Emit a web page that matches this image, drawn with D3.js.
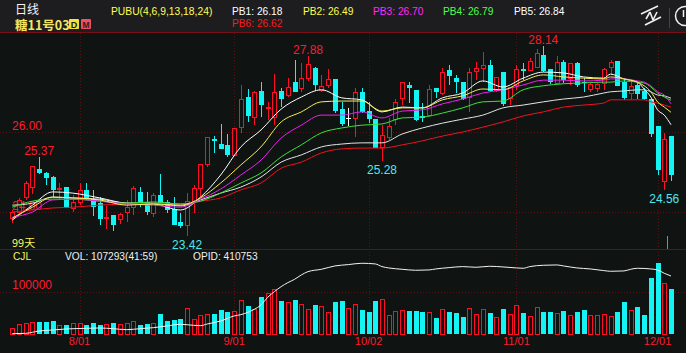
<!DOCTYPE html>
<html>
<head>
<meta charset="utf-8">
<script src="https://cdnjs.cloudflare.com/ajax/libs/d3/7.8.5/d3.min.js"></script>
<style>
  html, body { margin: 0; padding: 0; background: #0f1312; overflow: hidden; }
  text { font-family: "Liberation Sans", Arial, sans-serif; }
  .cjk { font-family: "Noto Sans CJK SC", sans-serif; }
</style>
</head>
<body>
<svg class="chart"></svg>
<script>
// daily candles, sugar no.11 03, 99 days
let opens = [23.86,24.01,24.38,24.63,25.08,24.98,24.88,24.58,24.63,24.11,24.26,24.56,24.33,24.23,23.86,23.93,23.83,24.01,24.13,24.51,24.26,23.98,24.43,24.26,24.08,23.76,23.68,24.28,24.61,25.20,25.83,25.70,25.68,25.43,26.12,26.87,26.37,27.02,26.60,26.37,27.02,26.92,27.24,27.10,27.34,27.59,27.05,27.17,27.32,26.57,26.35,26.35,27.00,26.52,26.32,25.63,25.88,26.32,26.85,27.17,27.05,26.40,26.42,27.10,26.97,27.54,27.34,27.24,26.87,27.52,27.59,27.67,27.05,27.49,26.85,27.17,27.57,27.54,27.62,27.92,27.57,27.22,27.74,27.34,27.72,27.24,27.07,27.10,27.22,27.62,27.77,27.24,26.97,27.17,27.02,26.82,26.15,24.78,25.90];
let highs = [24.06,24.36,24.78,25.15,25.37,25.00,24.90,24.73,24.63,24.43,24.73,24.73,24.56,24.38,24.16,23.93,23.98,24.31,24.66,24.63,24.51,24.48,24.95,24.31,24.38,23.98,24.48,24.68,25.20,25.88,25.90,26.20,25.95,26.10,27.17,27.07,27.02,27.24,26.75,27.44,27.10,27.34,27.79,27.72,27.88,27.62,27.42,27.57,27.32,26.75,26.60,27.10,27.10,26.75,26.32,26.17,26.35,26.82,27.24,27.24,27.05,26.72,27.17,27.10,27.59,27.67,27.42,27.24,27.59,27.74,27.99,27.79,27.37,27.49,27.12,27.67,27.72,27.84,28.07,28.14,27.57,27.89,27.79,27.72,27.74,27.34,27.22,27.22,27.59,27.79,27.77,27.34,27.29,27.24,27.10,26.82,26.15,25.98,25.90];
let lows = [23.73,23.96,24.31,24.46,24.95,24.68,24.38,24.31,24.11,24.01,24.18,24.31,23.91,23.68,23.58,23.53,23.71,23.76,23.93,24.13,23.93,23.88,24.23,23.98,23.68,23.61,23.42,23.98,24.38,25.13,25.48,25.58,25.38,25.43,25.98,26.25,26.17,26.37,26.30,26.17,26.62,26.87,27.00,27.00,27.27,27.02,27.00,27.10,26.47,26.15,26.15,25.88,26.47,26.22,25.60,25.28,25.80,26.17,26.67,26.72,26.27,26.25,26.42,26.85,26.92,27.17,26.97,26.80,26.50,27.29,27.24,27.00,27.00,26.65,26.67,27.05,27.29,27.52,27.59,27.49,27.20,27.22,27.22,27.17,27.12,27.00,27.00,27.00,27.05,27.42,27.15,26.80,26.80,26.82,26.80,25.88,24.93,24.56,24.78];
let closes = [24.01,24.31,24.73,25.15,24.98,24.85,24.56,24.61,24.11,24.26,24.56,24.36,24.13,23.83,23.88,23.68,23.96,24.13,24.61,24.23,24.01,24.43,24.23,24.06,23.68,23.66,24.28,24.61,25.20,25.88,25.78,25.58,25.43,26.10,26.82,26.40,27.00,26.67,26.62,27.00,26.82,27.12,27.00,27.34,27.69,27.17,27.15,27.32,26.52,26.20,26.35,27.00,26.50,26.32,25.60,25.93,26.15,26.75,27.24,27.10,26.30,26.35,27.07,27.00,27.49,27.39,27.24,26.82,27.49,27.59,27.67,27.02,27.37,26.70,27.12,27.57,27.52,27.77,27.97,27.52,27.24,27.74,27.29,27.72,27.17,27.22,27.20,27.20,27.57,27.74,27.15,26.85,27.15,26.95,26.82,25.95,25.05,25.83,24.93];
let volumes = [15100,23800,25400,27800,28600,27800,31000,22200,21400,25400,27000,22200,25400,21400,23000,25400,23000,25400,31800,20600,24600,27000,47600,31000,33300,35700,62700,36500,44500,46800,47600,57200,52400,54000,80200,66700,60300,88100,96900,106400,79400,75400,80200,72300,58800,68300,66700,51600,76200,78600,62700,70700,57200,51600,79400,82600,46100,54000,56400,54000,54800,53200,51600,38100,58800,52400,50000,40500,62700,46800,58800,50000,39700,59500,47600,68300,49200,42100,63500,52400,52400,49200,54800,44500,52400,57200,45300,44500,46800,42100,53200,76200,56400,63500,45300,133400,169100,121500,107293];

// moving averages read at these days
let maDays = [0,3,6,9,13,17,21,25,28,31,34,37,40,43,46,49,52,55,58,61,64,67,70,73,76,79,82,85,88,89,91,93,94,95,96,97,98];
let pb1 = [23.81,24.18,24.51,24.48,24.36,24.23,24.21,24.06,24.38,24.93,25.63,26.05,26.57,26.87,27.05,26.85,26.80,26.50,26.62,26.60,26.85,26.97,27.27,27.12,27.34,27.49,27.47,27.37,27.34,27.44,27.32,27.24,27.07,26.87,26.55,26.42,26.18];
let pb2 = [23.86,24.13,24.38,24.36,24.31,24.18,24.21,24.18,24.36,24.73,25.18,25.63,26.25,26.50,26.75,26.77,26.77,26.52,26.60,26.60,26.80,26.90,27.07,27.05,27.27,27.42,27.37,27.34,27.32,27.37,27.32,27.24,27.15,27.00,26.75,26.62,26.49];
let pb3 = [23.88,24.01,24.31,24.33,24.28,24.21,24.18,24.13,24.33,24.58,24.93,25.30,25.85,26.17,26.42,26.42,26.50,26.35,26.52,26.55,26.70,26.82,26.97,27.05,27.17,27.29,27.29,27.27,27.29,27.32,27.32,27.27,27.24,27.15,27.00,26.92,26.70];
let pb4 = [24.13,24.28,24.33,24.33,24.28,24.23,24.26,24.21,24.28,24.48,24.73,24.98,25.38,25.68,25.98,26.10,26.17,26.20,26.35,26.37,26.47,26.60,26.75,26.77,27.05,27.15,27.20,27.22,27.24,27.24,27.27,27.24,27.22,27.12,26.97,26.87,26.79];
let pb5 = [24.18,24.23,24.38,24.36,24.33,24.23,24.23,24.16,24.31,24.48,24.63,24.88,25.25,25.43,25.63,25.70,25.73,25.73,25.95,26.10,26.22,26.32,26.42,26.60,26.67,26.75,26.82,26.87,26.97,27.00,27.02,27.05,27.05,27.00,26.92,26.90,26.84];
let pb6 = [24.01,24.06,24.11,24.13,24.18,24.21,24.23,24.21,24.28,24.36,24.56,24.73,25.10,25.25,25.48,25.58,25.60,25.60,25.68,25.78,25.90,26.00,26.12,26.25,26.40,26.50,26.62,26.67,26.72,26.80,26.80,26.80,26.80,26.75,26.72,26.67,26.62];

// open interest
let opidDays = [0,2,4,6,8,11,13,15,17,19,21,23,25,27,28,29,31,33,34,36,37,38,39,40,41,42,43,44,46,48,50,52,54,55,56,58,60,62,63,65,67,69,71,73,75,76,77,79,81,82,84,86,88,89,91,92,93,95,96,97,98];
let opid = [151500,153000,163500,168000,172500,175500,177000,174000,169500,174000,178500,186000,193500,189000,187500,195000,208500,231000,237000,261000,280500,315000,340500,363000,381000,396000,415500,430500,441000,456000,462000,468000,465000,453000,447000,441000,436500,438000,442500,448500,453000,450000,454500,451500,447000,445500,453000,459000,460500,456000,447000,442500,435000,432000,433500,441000,445500,442500,438000,423000,410753];

let dateDays = [10,33,53,75,96];
let dateLabels = ['8/01','9/01','10/02','11/01','12/01'];
let priceTicks = [26, 24];
let volumeTicks = [100000];

let maSeries = [pb1, pb5, pb6, pb4, pb3, pb2];
let maColors = ['#ffffff', '#e4e4e4', '#f2121e', '#3fe03f', '#f020f0', '#f5f05a'];

let legendNames = ['PB1: 26.18', 'PB2: 26.49', 'PB3: 26.70', 'PB4: 26.79', 'PB5: 26.84', 'PB6: 26.62'];
let legendColors = ['#ffffff', '#ffff4d', '#ff2bff', '#4dff4d', '#ffffff', '#ff1a1a'];
let legendX = [232, 303, 373, 443, 514, 232];
let legendY = [15, 15, 15, 15, 15, 27];

let width = 686, height = 353;
let red = '#ff0f24', cyan = '#14f4f4', bg = '#0f1312', grid = '#5c1014';

let svg = d3.select('.chart')
    .attr('width', width)
    .attr('height', height)
    .style('display', 'block');

svg.append('rect').attr('width', width).attr('height', height).attr('fill', bg);
svg.append('rect').attr('width', width).attr('height', 32).attr('fill', '#1d1c1e');

let x = d3.scaleLinear().domain([0, 98]).range([12.3, 671]);
let y = d3.scaleLinear().domain([26, 24]).range([132, 212.4]);
let yVol = d3.scaleLinear().domain([0, 100000]).range([334, 292]);
let yOpid = d3.scaleLinear().domain([150000, 410753]).range([334, 276]);

// frame lines
svg.append('line').attr('x1', 0).attr('x2', width).attr('y1', 32.5).attr('y2', 32.5).attr('stroke', '#7a0d16');
svg.append('line').attr('x1', 0).attr('x2', width).attr('y1', 249.5).attr('y2', 249.5).attr('stroke', '#6a0d14');

// dotted grid
svg.selectAll('.vgrid').data(dateDays).enter().append('line')
    .attr('x1', d => Math.round(x(d)) + 0.5).attr('x2', d => Math.round(x(d)) + 0.5)
    .attr('y1', 33).attr('y2', 334)
    .attr('stroke', grid).attr('stroke-dasharray', '1,2');
svg.selectAll('.hgrid').data(priceTicks).enter().append('line')
    .attr('x1', 0).attr('x2', width)
    .attr('y1', d => Math.round(y(d)) + 0.5).attr('y2', d => Math.round(y(d)) + 0.5)
    .attr('stroke', grid).attr('stroke-dasharray', '1,2');
svg.selectAll('.vgridh').data(volumeTicks).enter().append('line')
    .attr('x1', 0).attr('x2', width)
    .attr('y1', d => Math.round(yVol(d)) + 0.5).attr('y2', d => Math.round(yVol(d)) + 0.5)
    .attr('stroke', grid).attr('stroke-dasharray', '1,2');

// candles
let days = d3.range(opens.length);
let isUp = i => closes[i] > opens[i];
let candle = svg.selectAll('.candle').data(days).enter().append('g').attr('class', 'candle');

function candleColor(i) {
  if (opens[i] === closes[i]) return '#ffffff';
  return isUp(i) ? red : cyan;
}

candle.append('line')
    .attr('x1', i => Math.round(x(i)) + 0.5).attr('x2', i => Math.round(x(i)) + 0.5)
    .attr('y1', i => Math.round(y(highs[i]))).attr('y2', i => Math.round(y(lows[i])))
    .attr('stroke', candleColor);

// up bars are hollow, so snap them half a pixel to keep the outline sharp
function bodyTop(i) {
  let top = Math.round(Math.min(y(opens[i]), y(closes[i])));
  return isUp(i) ? top + 0.5 : top;
}
function bodyHeight(i) {
  return Math.max(1, Math.round(Math.abs(y(opens[i]) - y(closes[i]))));
}

candle.append('rect')
    .attr('x', i => isUp(i) ? Math.round(x(i)) - 1.5 : Math.round(x(i)) - 2)
    .attr('width', i => isUp(i) ? 4 : 5)
    .attr('y', bodyTop)
    .attr('height', bodyHeight)
    .attr('fill', i => isUp(i) ? bg : candleColor(i))
    .attr('stroke', i => isUp(i) ? red : 'none');

// axis labels sit just above their grid line
svg.selectAll('.ptick').data(priceTicks).enter().append('text')
    .attr('x', 12).attr('y', d => y(d) - 2)
    .attr('font-size', 12).attr('fill', '#ff1a2c')
    .text(d => d.toFixed(2));
svg.selectAll('.vtick').data(volumeTicks).enter().append('text')
    .attr('x', 12).attr('y', d => yVol(d) - 3)
    .attr('font-size', 12).attr('fill', '#ff1a2c')
    .text(d => d);
svg.selectAll('.dtick').data(dateDays).enter().append('text')
    .attr('x', d => x(d)).attr('y', 345)
    .attr('text-anchor', 'middle').attr('font-size', 11).attr('fill', '#ff1a2c')
    .text((d, i) => dateLabels[i]);

// moving averages
let maLine = d3.line()
    .x((d, i) => x(maDays[i]))
    .y(d => y(d))
    .curve(d3.curveMonotoneX);

svg.selectAll('.ma').data(maSeries).enter().append('path')
    .attr('d', maLine)
    .attr('fill', 'none')
    .attr('stroke', (d, i) => maColors[i])
    .attr('stroke-width', 1);

// high / low callouts
let callouts = [
  { day: 4, price: 25.37, above: true },
  { day: 44, price: 27.88, above: true },
  { day: 79, price: 28.14, above: true },
  { day: 26, price: 23.42, above: false },
  { day: 55, price: 25.28, above: false },
  { day: 97, price: 24.56, above: false }
];
svg.selectAll('.callout').data(callouts).enter().append('text')
    .attr('x', d => x(d.day))
    .attr('y', d => d.above ? y(d.price) - 2 : y(d.price) + 13)
    .attr('text-anchor', 'middle')
    .attr('font-size', 12)
    .attr('fill', d => d.above ? '#ff1a2c' : '#4de8ee')
    .text(d => d.price.toFixed(2));

// volume bars
svg.selectAll('.vol').data(days).enter().append('rect')
    .attr('x', i => closes[i] >= opens[i] ? Math.round(x(i)) - 1.5 : Math.round(x(i)) - 2)
    .attr('width', i => closes[i] >= opens[i] ? 4 : 5)
    .attr('y', i => closes[i] >= opens[i] ? Math.round(yVol(volumes[i])) + 0.5 : Math.round(yVol(volumes[i])))
    .attr('height', i => Math.round(yVol(0) - yVol(volumes[i])))
    .attr('fill', i => closes[i] >= opens[i] ? bg : cyan)
    .attr('stroke', i => closes[i] >= opens[i] ? red : 'none');

let opidLine = d3.line()
    .x((d, i) => x(opidDays[i]))
    .y(d => yOpid(d))
    .curve(d3.curveMonotoneX);

svg.append('path')
    .attr('d', opidLine(opid))
    .attr('fill', 'none')
    .attr('stroke', '#f2f2f2')
    .attr('stroke-width', 1);

// cursor stub above the volume panel
svg.append('line').attr('x1', 667.5).attr('x2', 667.5).attr('y1', 236).attr('y2', 249).attr('stroke', '#8a8a8a');

// header text
svg.append('text').attr('class', 'cjk').attr('x', 15).attr('y', 13.5)
    .attr('font-size', 12).attr('fill', '#f4f4f4').text('日线');
svg.append('text').attr('class', 'cjk').attr('x', 15).attr('y', 29.5)
    .attr('font-size', 12.5).attr('font-weight', 700).attr('fill', '#f5e663').text('糖11号03');

svg.append('rect').attr('x', 69).attr('y', 19).attr('width', 10).attr('height', 10).attr('rx', 1).attr('fill', '#f5e040');
svg.append('text').attr('x', 74).attr('y', 27.5).attr('text-anchor', 'middle')
    .attr('font-size', 9).attr('font-weight', 700).attr('fill', '#1d1c1e').text('D');
svg.append('rect').attr('x', 81).attr('y', 19).attr('width', 10).attr('height', 10).attr('rx', 1).attr('fill', '#ee5060');
svg.append('text').attr('x', 86).attr('y', 27.5).attr('text-anchor', 'middle')
    .attr('font-size', 8.5).attr('font-weight', 700).attr('fill', '#3a1a1c').text('M');

svg.append('text').attr('x', 111).attr('y', 15)
    .attr('font-size', 10.3).attr('fill', '#ffff55').text('PUBU(4,6,9,13,18,24)');

svg.selectAll('.legend').data(legendNames).enter().append('text')
    .attr('x', (d, i) => legendX[i]).attr('y', (d, i) => legendY[i])
    .attr('font-size', 10.2).attr('fill', (d, i) => legendColors[i])
    .text(d => d);

// top right icons
let iconLines = [[641, 14, 658, 6], [645, 25, 661, 17], [646, 19, 650, 12], [650, 12, 653, 20], [653, 20, 657, 12]];
svg.selectAll('.icon').data(iconLines).enter().append('line')
    .attr('x1', d => d[0]).attr('y1', d => d[1]).attr('x2', d => d[2]).attr('y2', d => d[3])
    .attr('stroke', '#f2f2f2').attr('stroke-width', 1.6);
svg.append('line').attr('x1', 669.5).attr('x2', 669.5).attr('y1', 8).attr('y2', 28).attr('stroke', '#444');
svg.append('circle').attr('cx', 685).attr('cy', 16).attr('r', 9.5).attr('fill', 'none').attr('stroke', '#f2f2f2').attr('stroke-width', 1.5);
svg.append('line').attr('x1', 683.5).attr('x2', 683.5).attr('y1', 10).attr('y2', 17).attr('stroke', '#f2f2f2').attr('stroke-width', 1.5);

// lower labels
svg.append('text').attr('class', 'cjk').attr('x', 12).attr('y', 247)
    .attr('font-size', 11).attr('fill', '#f5f05a').text('99天');
svg.append('text').attr('x', 13).attr('y', 260)
    .attr('font-size', 10.2).attr('fill', '#f5f05a').text('CJL');
svg.append('text').attr('x', 65).attr('y', 260)
    .attr('font-size', 10.2).attr('fill', '#f0f0f0').text('VOL: 107293(41:59)');
svg.append('text').attr('x', 193).attr('y', 260)
    .attr('font-size', 10.2).attr('fill', '#f0f0f0').text('OPID: 410753');
</script>
</body>
</html>
